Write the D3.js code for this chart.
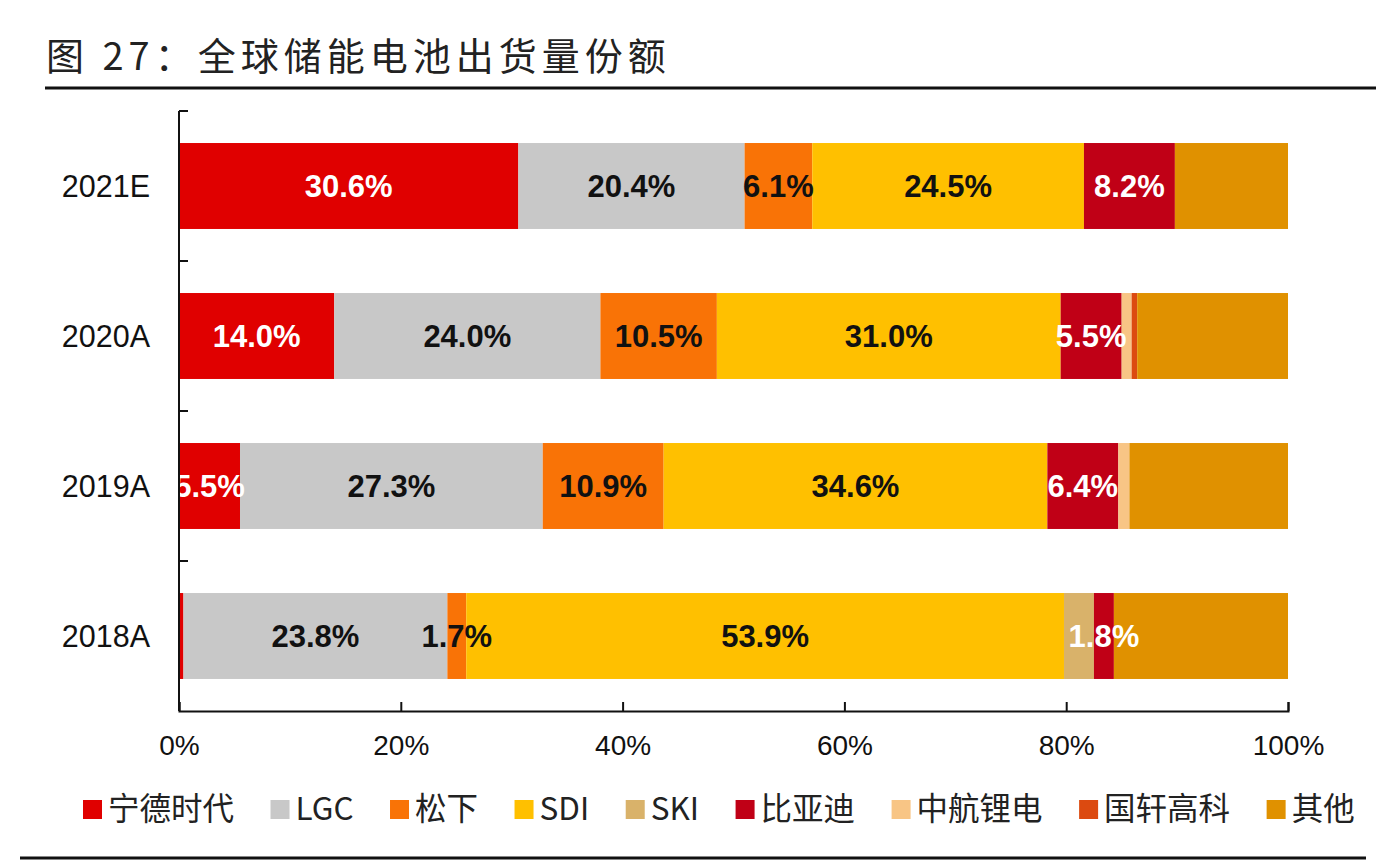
<!DOCTYPE html>
<html>
<head>
<meta charset="utf-8">
<script src="https://cdn.jsdelivr.net/npm/d3@7"></script>
<style>
  html, body { margin: 0; padding: 0; background: #fff; }
  svg { display: block; }
</style>
</head>
<body>
<svg id="chart" width="1376" height="866"></svg>
<script>
// ---- data ----
const categories = ["2021E", "2020A", "2019A", "2018A"];
const seriesNames = ["宁德时代", "LGC", "松下", "SDI", "SKI", "比亚迪", "中航锂电", "国轩高科", "其他"];
const catl    = [30.6, 14.0, 5.5, 0.4];
const lgc     = [20.4, 24.0, 27.3, 23.8];
const panasonic = [6.1, 10.5, 10.9, 1.7];
const sdi     = [24.5, 31.0, 34.6, 53.9];
const ski     = [0, 0, 0, 2.7];
const byd     = [8.2, 5.5, 6.4, 1.8];
const avic    = [0, 0.9, 1.0, 0];
const gotion  = [0, 0.5, 0, 0];
const others  = [10.2, 13.6, 14.3, 15.7];
const xTicks = [0, 20, 40, 60, 80, 100];
const labeledSeries = ["宁德时代", "LGC", "松下", "SDI", "比亚迪"];

const seriesValues = [catl, lgc, panasonic, sdi, ski, byd, avic, gotion, others];
const colors = ["#E00000", "#C8C8C8", "#F97306", "#FFC000", "#D9B26A", "#C00016", "#F8C585", "#DC4A10", "#E09100"];
const labelColors = {"宁德时代": "#fff", "比亚迪": "#fff"};

const svg = d3.select("#chart");
const margin = {left: 179, right: 1288, top: 111, bottom: 711};

// title
svg.append("text")
  .attr("x", 46).attr("y", 70)
  .attr("font-family", "'Noto Sans CJK SC', sans-serif")
  .attr("font-size", 38)
  .attr("letter-spacing", 5)
  .attr("fill", "#222")
  .text("图 27：全球储能电池出货量份额");
svg.append("line").attr("x1", 45).attr("x2", 1376).attr("y1", 88).attr("y2", 88)
  .attr("stroke", "#111").attr("stroke-width", 3);
svg.append("line").attr("x1", 20).attr("x2", 1366).attr("y1", 858).attr("y2", 858)
  .attr("stroke", "#111").attr("stroke-width", 3);

const x = d3.scaleLinear().domain([0, 100]).range([margin.left, margin.right]);
const y = d3.scaleBand().domain(categories).range([margin.top, margin.bottom])
  .paddingInner(0.427).paddingOuter(0.2135);

// table
const table = categories.map((c, i) => {
  const row = {cat: c};
  seriesNames.forEach((s, j) => row[s] = seriesValues[j][i]);
  return row;
});
const stacked = d3.stack().keys(seriesNames)(table);

const g = svg.append("g");
stacked.forEach((layer, j) => {
  g.selectAll(null).data(layer).enter().append("rect")
    .attr("x", d => x(d[0]))
    .attr("y", d => y(d.data.cat))
    .attr("width", d => Math.max(0, x(d[1]) - x(d[0])))
    .attr("height", y.bandwidth())
    .attr("fill", colors[j]);
});

// labels
stacked.forEach((layer, j) => {
  const name = seriesNames[j];
  if (!labeledSeries.includes(name)) return;
  g.selectAll(null).data(layer.filter(d => (d[1] - d[0]) >= 1)).enter().append("text")
    .attr("x", d => (x(d[0]) + x(d[1])) / 2)
    .attr("y", d => y(d.data.cat) + y.bandwidth() / 2)
    .attr("dy", "0.36em")
    .attr("text-anchor", "middle")
    .attr("font-family", "'Liberation Sans', Arial, sans-serif")
    .attr("font-weight", "bold")
    .attr("font-size", 31)
    .attr("fill", labelColors[name] || "#111")
    .text(d => (d[1] - d[0]).toFixed(1) + "%");
});

// axes
const xAxis = d3.axisBottom(x).tickValues(xTicks).tickFormat(d => d + "%")
  .tickSizeInner(-9).tickSizeOuter(-9).tickPadding(24);
const xg = svg.append("g").attr("transform", `translate(0,${margin.bottom})`).call(xAxis);
xg.select(".domain").attr("stroke", "#111").attr("stroke-width", 2);
xg.selectAll(".tick line").attr("stroke", "#111").attr("stroke-width", 2);
xg.selectAll(".tick text").attr("font-family", "'Liberation Sans', Arial, sans-serif")
  .attr("font-size", 28).attr("fill", "#111");

const yBoundaries = d3.scaleLinear().domain([0, categories.length]).range([margin.top, margin.bottom]);
const yg = svg.append("g");
yg.append("line").attr("x1", margin.left).attr("x2", margin.left)
  .attr("y1", margin.top).attr("y2", margin.bottom).attr("stroke", "#111").attr("stroke-width", 2);
yg.selectAll(null).data(d3.range(categories.length)).enter().append("line")
  .attr("x1", margin.left).attr("x2", margin.left + 9)
  .attr("y1", d => yBoundaries(d)).attr("y2", d => yBoundaries(d))
  .attr("stroke", "#111").attr("stroke-width", 2);
yg.selectAll(null).data(categories).enter().append("text")
  .attr("x", 150)
  .attr("y", d => y(d) + y.bandwidth() / 2)
  .attr("dy", "0.36em")
  .attr("text-anchor", "end")
  .attr("font-family", "'Liberation Sans', Arial, sans-serif")
  .attr("font-size", 30.5)
  .attr("fill", "#111")
  .text(d => d);

// legend
const leg = svg.append("g");
let lx = 83;
seriesNames.forEach((s, j) => {
  leg.append("rect").attr("x", lx).attr("y", 800).attr("width", 19).attr("height", 19).attr("fill", colors[j]);
  const t = leg.append("text").attr("x", lx + 25).attr("y", 809).attr("dy", "0.36em")
    .attr("font-family", "'Noto Sans CJK SC', sans-serif")
    .attr("font-size", 31.5).attr("fill", "#222").text(s);
  lx += 25 + t.node().getComputedTextLength() + 36.5;
});
</script>
</body>
</html>
